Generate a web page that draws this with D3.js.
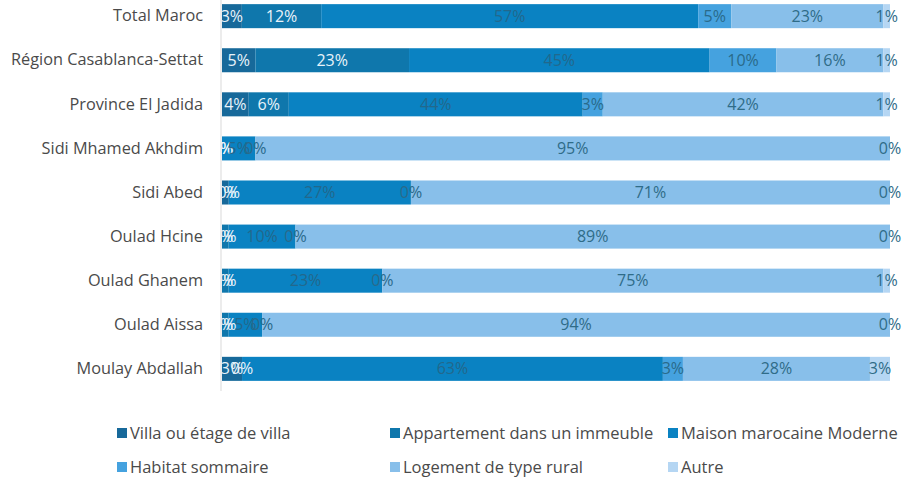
<!DOCTYPE html>
<html>
<head>
<meta charset="utf-8">
<script src="https://cdn.jsdelivr.net/npm/d3@7"></script>
<style>
body { margin: 0; background: #fff; }
</style>
</head>
<body>
<div></div>
<script>
const width = 902, height = 484

// data
const categories = ["Total Maroc", "Région Casablanca-Settat", "Province El Jadida", "Sidi Mhamed Akhdim",
	"Sidi Abed", "Oulad Hcine", "Oulad Ghanem", "Oulad Aissa", "Moulay Abdallah"]
const seriesNames = ["Villa ou étage de villa", "Appartement dans un immeuble", "Maison marocaine Moderne",
	"Habitat sommaire", "Logement de type rural", "Autre"]
const villa     = [3, 5, 4, 0, 1, 0, 0, 0, 3]
const appart    = [12, 23, 6, 0, 0, 1, 1, 1, 0]
const maison    = [57, 45, 44, 5, 27, 10, 23, 5, 63]
const sommaire  = [5, 10, 3, 0, 0, 0, 0, 0, 3]
const rural     = [23, 16, 42, 95, 71, 89, 75, 94, 28]
const autre     = [1, 1, 1, 0, 0, 0, 1, 0, 3]

// settings
const colors = ["#17699a", "#0f77ac", "#0a82c2", "#45a2df", "#88bfea", "#b5d6f3"]
const labelColors = ["#e8f3fa", "#e8f3fa", "#22688c", "#2a6a8a", "#2f6c88", "#2f6c88"]
const font = "'Open Sans', sans-serif"

const table = categories.map((c, i) => {
	const row = {cat: c}
	const cols = [villa, appart, maison, sommaire, rural, autre]
	seriesNames.forEach((s, j) => row[s] = cols[j][i])
	return row
})

const svg = d3.select("div")
	.append("svg")
	.attr("xmlns", "http://www.w3.org/2000/svg")
	.attr("width", width)
	.attr("height", height)

const x = d3.scaleLinear().domain([0, 1]).range([222, 890])
const y = d3.scaleBand().domain(categories).range([-6, 391]).paddingInner(0.455).paddingOuter(0.23)

const stacked = d3.stack().keys(seriesNames).offset(d3.stackOffsetExpand)(table)

// labels are clipped at the plot's left edge, like in the original
svg.append("clipPath").attr("id", "plotClip")
	.append("rect")
	.attr("x", x(0)).attr("y", 0)
	.attr("width", width - x(0)).attr("height", 400)

// bars
const groups = svg.selectAll().data(stacked).enter().append("g")
	.attr("fill", (d, i) => colors[i])
groups.selectAll("rect").data(d => d).enter().append("rect")
	.attr("x", d => x(d[0]))
	.attr("y", d => y(d.data.cat))
	.attr("width", d => x(d[1]) - x(d[0]))
	.attr("height", y.bandwidth())

// value labels
const labelLayer = svg.append("g").attr("clip-path", "url(#plotClip)")
stacked.forEach((s, i) => {
	labelLayer.selectAll().data(s).enter().append("text")
		.attr("x", d => (x(d[0]) + x(d[1])) / 2)
		.attr("y", d => y(d.data.cat) + y.bandwidth() / 2)
		.attr("dy", "0.35em")
		.attr("text-anchor", "middle")
		.attr("font-family", font)
		.attr("font-size", 16)
		.attr("fill", labelColors[i])
		.text(d => d.data[s.key] + "%")
})

// axis
const yAxis = svg.append("g")
	.attr("transform", `translate(${x(0) - 1},0)`)
	.call(d3.axisLeft(y).tickSize(0).tickPadding(18))
yAxis.select(".domain").attr("stroke", "#d9d9d9").attr("d", "M0,0V391")
yAxis.selectAll("text")
	.attr("font-family", font)
	.attr("font-size", 16.3)
	.attr("fill", "#4a4a4a")

// legend
const legendPos = [[117, 433], [390, 433], [668, 433], [117, 467], [390, 467], [668, 467]]
const legend = svg.selectAll().data(seriesNames).enter().append("g")
	.attr("transform", (d, i) => `translate(${legendPos[i][0]},${legendPos[i][1]})`)
legend.append("rect")
	.attr("x", 0).attr("y", -5)
	.attr("width", 10).attr("height", 10)
	.attr("fill", (d, i) => colors[i])
legend.append("text")
	.attr("x", 13)
	.attr("dy", "0.35em")
	.attr("font-family", font)
	.attr("font-size", 16.5)
	.attr("fill", "#4a4a4a")
	.text(d => d)
</script>
</body>
</html>
